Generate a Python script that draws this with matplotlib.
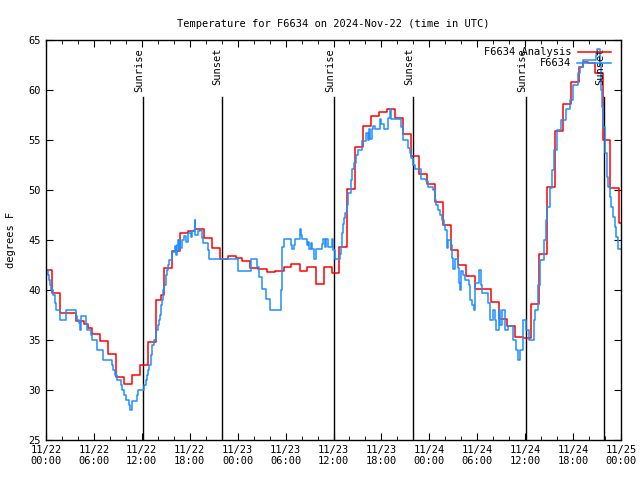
import matplotlib
matplotlib.use("Agg")
import matplotlib.pyplot as plt
from matplotlib.ticker import MultipleLocator

# hours since 2024-11-22 00:00 UTC
analysis_hours = [0, 0.75, 1.75, 3.75, 4.75, 5.2, 5.75, 6.75, 7.75, 8.75,
                  9.75, 10.75, 11.75, 12.75, 13.75, 14.4, 14.75, 15.75, 16.75, 17.75,
                  18.7, 19.75, 20.75, 21.75, 22.75, 23.75, 24.5, 25.6, 26.6, 27.7,
                  28.7, 29.75, 30.65, 31.8, 32.7, 33.8, 34.75, 35.8, 36.7, 37.7,
                  38.7, 39.7, 40.7, 41.7, 42.7, 43.7, 44.7, 45.7, 46.65, 47.7,
                  48.7, 49.7, 50.7, 51.65, 52.6, 53.7, 55.7, 56.7, 57.7, 58.7,
                  59.7, 60.7, 61.75, 62.75, 63.7, 64.7, 65.7, 66.75, 67.25, 67.9,
                  68.7, 69.7, 70.6, 71.7, 72]
analysis_temp = [42.0, 39.7, 37.7, 36.9, 36.6, 36.2, 35.6, 34.9, 33.6, 31.3,
                 30.6, 31.5, 32.5, 34.8, 39.0, 39.5, 42.2, 43.9, 45.7, 45.9,
                 46.1, 45.2, 44.2, 43.1, 43.4, 43.2, 42.9, 42.2, 42.1, 41.8,
                 41.9, 42.3, 42.6, 41.9, 42.3, 40.6, 42.3, 41.7, 44.3, 50.1,
                 54.3, 56.4, 57.4, 57.8, 58.1, 57.2, 55.6, 53.4, 51.6, 50.6,
                 48.8, 46.5, 44.0, 42.5, 41.4, 40.1, 38.8, 37.1, 36.4, 35.3,
                 35.2, 38.6, 43.6, 50.3, 55.9, 58.6, 60.8, 62.3, 62.8, 62.7,
                 61.7, 55.0, 50.2, 46.7, 46.7]

obs_hours = [0, 0.2, 0.33, 0.46, 0.58, 0.9, 1.08, 1.2, 1.75, 2.46,
             3.7, 3.9, 4.13, 4.3, 4.42, 4.96, 5.17, 5.59, 5.8, 6.42,
             7.18, 8.22, 8.43, 8.6, 8.84, 9.39, 9.55, 9.76, 10.0, 10.39,
             10.5, 10.76, 11.35, 11.56, 12.31, 12.52, 12.68, 12.81, 12.9, 13.1,
             13.31, 13.56, 13.77, 13.98, 14.14, 14.3, 14.39, 14.56, 14.68, 14.81,
             14.98, 15.2, 15.31, 15.44, 15.81, 16.14, 16.3, 16.4, 16.48, 16.6,
             16.7, 16.81, 17.0, 17.31, 17.5, 17.73, 18.15, 18.3, 18.57, 18.65,
             18.7, 19.0, 19.27, 19.48, 19.69, 20.32, 20.44, 24.07, 25.61, 26.37,
             26.7, 26.99, 27.53, 28.03, 29.37, 29.5, 29.79, 30.62, 30.83, 31.04,
             31.16, 31.79, 31.87, 32.0, 32.62, 32.83, 32.96, 33.16, 33.37, 33.54,
             33.79, 34.5, 34.71, 34.92, 35.12, 35.33, 35.75, 35.9, 36.17, 36.79,
             36.92, 37.09, 37.21, 37.35, 37.5, 37.63, 37.76, 38.13, 38.34, 38.55,
             38.76, 39.01, 39.51, 40.13, 40.3, 40.42, 40.55, 40.76, 40.97, 41.2,
             41.8, 42.0, 42.3, 42.84, 43.05, 43.18, 44.51, 44.72, 45.35, 45.56,
             45.76, 45.97, 46.18, 47.01, 47.64, 47.85, 48.47, 48.68, 48.89, 49.1,
             49.35, 49.6, 49.8, 50.02, 50.23, 50.35, 50.77, 50.9, 50.98, 51.19,
             51.6, 51.73, 51.81, 52.02, 52.23, 52.52, 52.98, 53.15, 53.4, 53.57,
             53.78, 54.2, 54.53, 54.65, 55.36, 55.57, 55.99, 56.2, 56.4, 56.7,
             56.9, 57.1, 57.45, 57.87, 58.49, 58.83, 59.12, 59.33, 59.7, 60.15,
             60.45, 61.07, 61.28, 61.62, 61.91, 62.33, 62.58, 62.74, 63.08,
             63.37, 63.62, 64.04, 64.54, 65.08, 65.58, 66.0, 66.62, 66.83, 67.25,
             68.92, 69.04, 69.33, 69.54, 69.67, 69.75, 69.96, 70.25, 70.37, 70.58,
             70.79, 71.0, 71.2, 71.41, 71.62, 72]
obs_temp = [42.0, 41.5, 41.0, 40.5, 40.0, 39.5, 38.7, 38.0, 37.0, 38.0,
            37.4, 37.0, 36.7, 36.0, 37.4, 36.6, 36.0, 35.5, 35.0, 34.0,
            33.0, 32.5, 32.0, 31.5, 31.0, 30.5, 30.0, 29.5, 29.0, 28.5,
            28.0, 28.9, 29.5, 30.0, 30.5, 31.0, 31.5, 32.0, 32.5, 33.5,
            34.5, 35.0, 36.0, 36.5, 37.0, 37.5, 38.5, 39.0, 40.0, 40.5,
            41.5, 42.0, 42.5, 43.0, 43.8, 44.4, 43.5, 44.5, 45.0, 44.0,
            45.0, 44.2, 45.0, 45.4, 44.8, 45.7, 45.3, 45.9, 46.0, 47.0,
            45.5, 45.9, 46.0, 45.2, 44.7, 44.0, 43.07, 41.93, 43.07, 42.33,
            41.33, 40.07, 39.07, 38.0, 40.0, 44.33, 45.07, 44.5, 44.07, 44.5,
            45.07, 46.07, 45.5, 45.07, 44.5, 44.83, 44.07, 44.67, 44.07, 43.07,
            44.07, 44.6, 45.07, 44.33, 45.07, 44.33, 45.07, 44.0, 43.07, 43.6,
            44.33, 45.67, 46.6, 47.2, 47.67, 48.5, 49.67, 51.0, 52.07, 52.67,
            53.5, 54.0, 54.93, 55.67, 55.0, 56.07, 55.07, 56.07, 56.4, 56.07,
            57.07, 56.6, 56.07, 57.17, 58.07, 57.07, 56.33, 55.0, 54.17, 53.67,
            53.17, 52.5, 52.07, 51.13, 50.93, 50.27, 50.0, 49.0, 48.5, 48.0,
            47.5, 47.0, 46.5, 46.0, 44.17, 45.0, 44.5, 43.17, 42.07, 43.07,
            42.17, 40.67, 40.0, 41.9, 41.5, 41.0, 40.5, 39.0, 38.5, 38.0,
            40.67, 42.0, 40.5, 39.67, 38.67, 37.0, 38.0, 37.0, 36.0, 38.0,
            36.5, 38.0, 36.0, 36.4, 35.0, 34.0, 33.0, 34.0, 37.0, 36.0,
            35.0, 37.0, 38.0, 40.5, 43.0, 45.0, 47.0, 48.33, 50.17,
            52.0, 54.0, 56.0, 57.0, 58.07, 59.0, 60.5, 61.67, 62.33, 63.0,
            63.5, 64.07, 62.5, 60.0, 58.33, 56.33, 53.67, 51.33, 50.33, 49.33,
            48.33, 47.33, 46.33, 45.33, 44.07, 44.07]

sun_hours = [12.15, 21.98, 36.1, 45.98, 60.12, 69.9]
sun_labels = ["Sunrise", "Sunset", "Sunrise", "Sunset", "Sunrise", "Sunset"]

tick_hours = list(range(0, 73, 6))
tick_labels = ["11/22\n00:00", "11/22\n06:00", "11/22\n12:00", "11/22\n18:00",
               "11/23\n00:00", "11/23\n06:00", "11/23\n12:00", "11/23\n18:00",
               "11/24\n00:00", "11/24\n06:00", "11/24\n12:00", "11/24\n18:00",
               "11/25\n00:00"]

plt.rcParams["font.family"] = "DejaVu Sans Mono"
plt.rcParams["font.size"] = 7.5

fig = plt.figure(figsize=(6.4, 4.8), dpi=100)
ax = fig.add_axes([46 / 640, 40 / 480, 575 / 640, 400 / 480])

# sunrise / sunset markers
for h, lab in zip(sun_hours, sun_labels):
    ax.plot([h, h], [25, 59.3], color="black", lw=1)
    ax.text(h + 0.1, 64.2, lab, rotation=90, ha="right", va="top", fontsize=7.5)

ax.step(analysis_hours, analysis_temp, where="post", color="#ff0000", lw=1.1,
        label="F6634 Analysis")
ax.step(obs_hours, obs_temp, where="post", color="#1e90ff", lw=1.1, label="F6634")

ax.set_xlim(0, 72)
ax.set_ylim(25, 65)
ax.set_xticks(tick_hours)
ax.set_xticklabels(tick_labels)
ax.xaxis.set_minor_locator(MultipleLocator(2))
ax.set_yticks(range(25, 66, 5))
ax.tick_params(which="both", direction="in", top=True, right=True)
ax.tick_params(which="major", length=5)
ax.tick_params(which="minor", length=3)
for s in ax.spines.values():
    s.set_linewidth(1)

ax.set_title("Temperature for F6634 on 2024-Nov-22 (time in UTC)", fontsize=7.5, pad=9)
ax.set_ylabel("degrees F", labelpad=9)

ax.legend(loc="upper right", bbox_to_anchor=(0.995, 1.0), frameon=False,
          markerfirst=False, handlelength=3.2, labelspacing=0.1, borderpad=0.2,
          handletextpad=0.6)

plt.savefig("out.png", dpi=100)
